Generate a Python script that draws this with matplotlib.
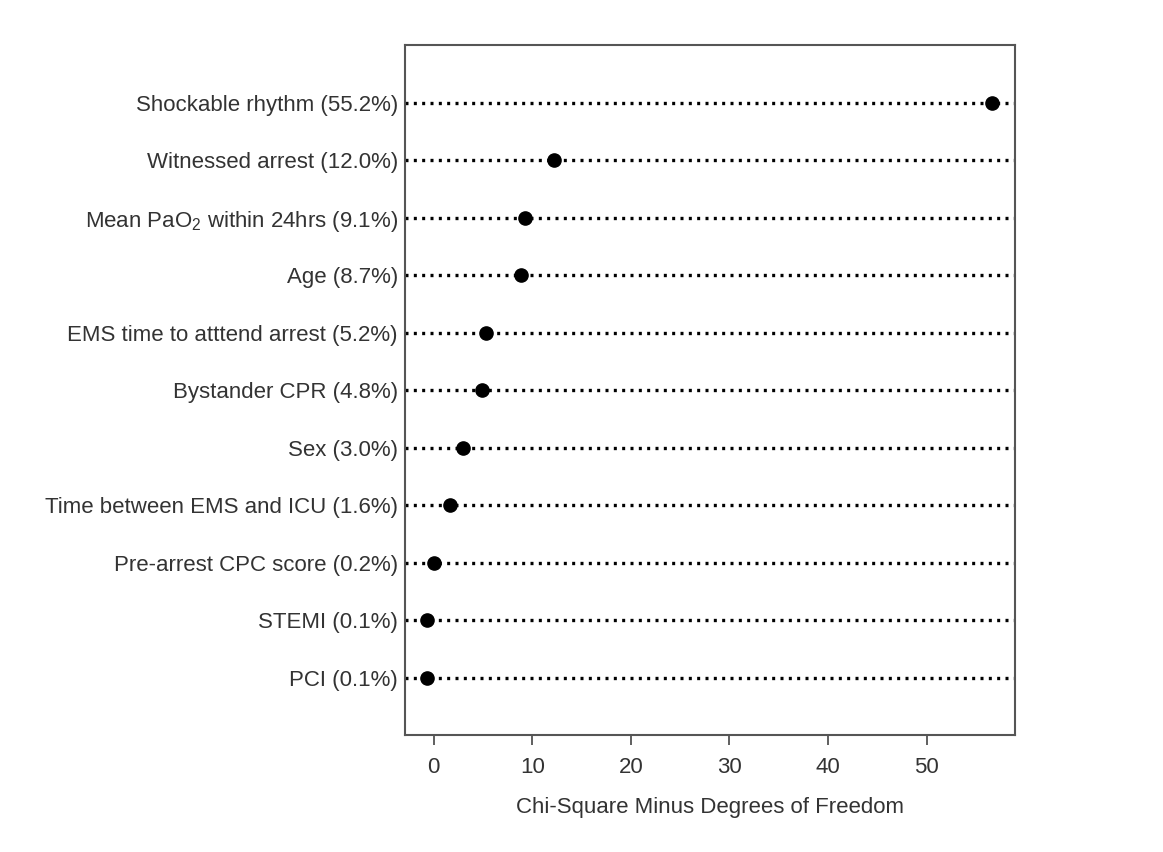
import matplotlib
matplotlib.use("Agg")
import matplotlib.pyplot as plt

plt.rcParams['font.family'] = ['Liberation Sans', 'DejaVu Sans']
plt.rcParams['mathtext.fontset'] = 'custom'
plt.rcParams['mathtext.rm'] = 'Liberation Sans'
plt.rcParams['mathtext.it'] = 'Liberation Sans:italic'

# predictors, top to bottom
labels = [
    'Shockable rhythm (55.2%)',
    'Witnessed arrest (12.0%)',
    'Mean PaO$_2$ within 24hrs (9.1%)',
    'Age (8.7%)',
    'EMS time to atttend arrest (5.2%)',
    'Bystander CPR (4.8%)',
    'Sex (3.0%)',
    'Time between EMS and ICU (1.6%)',
    'Pre-arrest CPC score (0.2%)',
    'STEMI (0.1%)',
    'PCI (0.1%)',
]
values = [56.6, 12.2, 9.3, 8.85, 5.3, 4.9, 2.95, 1.6, 0.0, -0.7, -0.7]
xticks = [0, 10, 20, 30, 40, 50]

txt = '#333333'
fs = 16

fig = plt.figure(figsize=(11.63, 8.52), dpi=100)
ax = fig.add_axes([0.348, 0.137, 0.525, 0.810])

n = len(labels)
ypos = list(range(n, 0, -1))

for y in ypos:
    ax.axhline(y, color='black', lw=2.4, linestyle=(0, (0.9, 1.6)), zorder=1)
ax.plot(values, ypos, 'o', color='black', ms=9.5, zorder=3)

ax.set_xlim(-2.95, 59.0)
ax.set_ylim(0, n + 1)
ax.set_yticks(ypos)
ax.set_yticklabels(labels, fontsize=fs, color=txt)
ax.tick_params(axis='y', length=0, pad=5)
ax.set_xticks(xticks)
ax.set_xticklabels([str(t) for t in xticks], fontsize=fs, color=txt)
ax.tick_params(axis='x', length=7, width=1.2, color='#444444', pad=9, direction='out')
ax.set_xlabel('Chi-Square Minus Degrees of Freedom', fontsize=fs, color=txt, labelpad=13)

for s in ax.spines.values():
    s.set_color('#555555')
    s.set_linewidth(1.5)

fig.savefig('out.png', dpi=100)
